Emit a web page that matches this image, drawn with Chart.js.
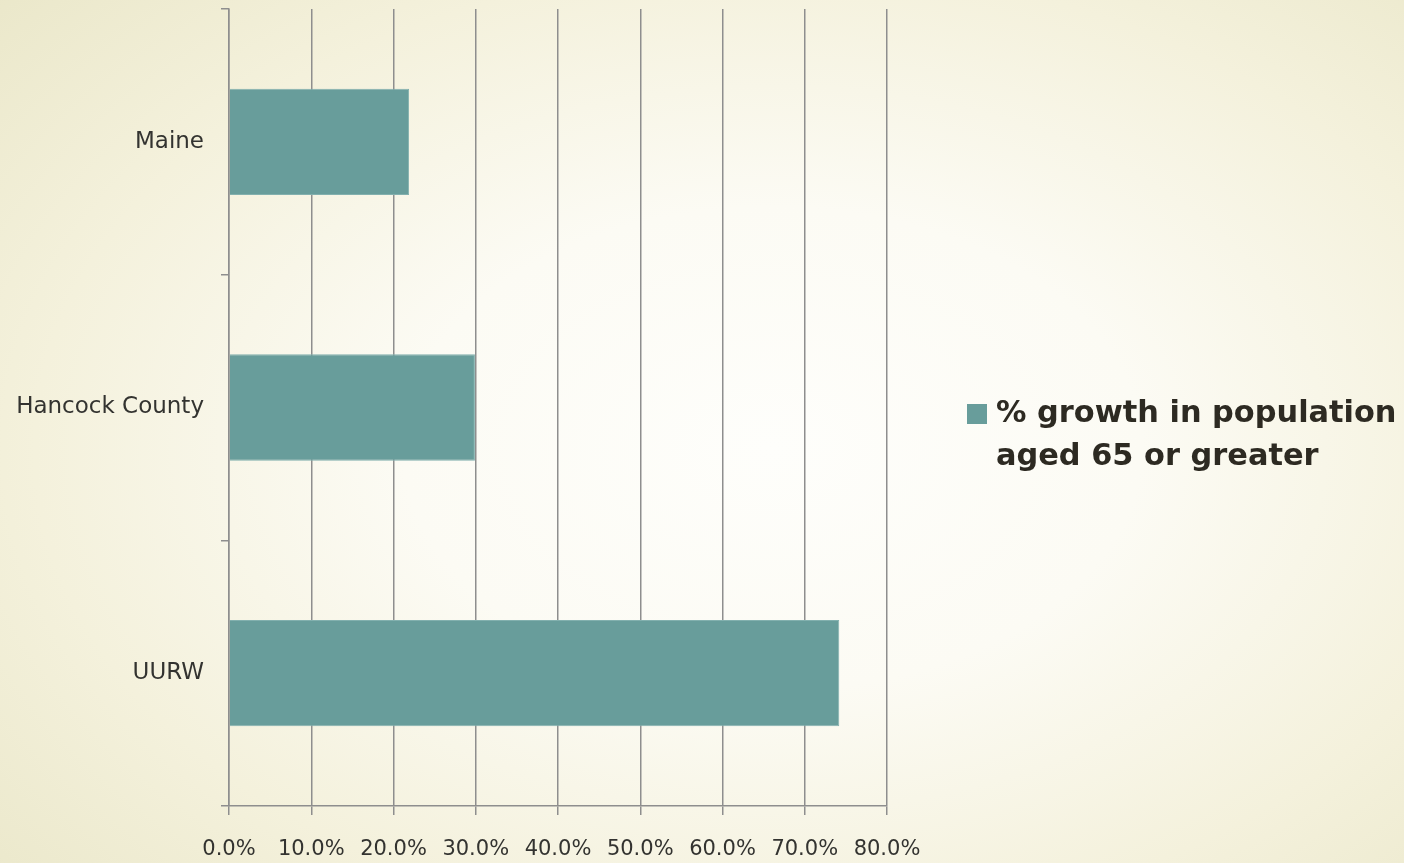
<!DOCTYPE html>
<html>
<head>
<meta charset="utf-8">
<script src="https://cdn.jsdelivr.net/npm/chart.js@4/dist/chart.umd.min.js"></script>
<style>
  html, body { margin: 0; padding: 0; }
  body {
    width: 1404px; height: 863px; overflow: hidden;
    background: radial-gradient(ellipse 75% 80% at 55% 52%, #fefefb 0%, #fcfbf4 35%, #f4f1dc 70%, #eae7c9 100%);
  }
  #wrap { position: relative; width: 1404px; height: 863px; }
</style>
</head>
<body>
<div id="wrap"><canvas id="c"></canvas></div>
<script>
// Regions compared
const categories = ['Maine', 'Hancock County', 'UURW'];
// Growth of the 65+ population, in percent
const growthValues = [21.9, 29.9, 74.2];
const seriesLabel = '% growth in population aged 65 or greater';
const xTicks = [0, 10, 20, 30, 40, 50, 60, 70, 80];

const barColor = '#689d9b';
const gridColor = '#8e8e8e';
const textColor = '#333330';

// Draws the series key at the right, wrapped across lines
const sideLegend = {
  id: 'sideLegend',
  afterDraw(chart) {
    const ctx = chart.ctx;
    const ds = chart.data.datasets[0];
    ctx.save();
    ctx.font = 'bold 30.4px "DejaVu Sans", sans-serif';
    const words = ds.label.split(' ');
    const maxW = 405;
    const lines = [];
    let cur = '';
    words.forEach(w => {
      const t = cur ? cur + ' ' + w : w;
      if (ctx.measureText(t).width > maxW && cur) { lines.push(cur); cur = w; }
      else cur = t;
    });
    if (cur) lines.push(cur);
    const x0 = 967, textX = 996, y0 = 414, lh = 43;
    ctx.fillStyle = ds.backgroundColor;
    ctx.fillRect(x0, y0 - 10, 20, 20);
    ctx.fillStyle = '#2d2a22';
    ctx.textBaseline = 'middle';
    ctx.textAlign = 'left';
    lines.forEach((l, i) => ctx.fillText(l, textX, y0 + i * lh));
    ctx.restore();
  }
};

new Chart(document.getElementById('c'), {
  type: 'bar',
  data: {
    labels: categories,
    datasets: [{
      label: seriesLabel,
      data: growthValues,
      backgroundColor: barColor,
      borderColor: '#82b0ae',
      borderWidth: 1,
      borderSkipped: 'start',
      categoryPercentage: 1.0,
      barPercentage: 0.4
    }]
  },
  options: {
    indexAxis: 'y',
    responsive: true,
    maintainAspectRatio: false,
    animation: false,
    layout: { padding: { top: 9, right: 517, left: 0, bottom: 0 } },
    plugins: { legend: { display: false }, tooltip: { enabled: false } },
    scales: {
      x: {
        min: 0, max: 80,
        afterBuildTicks(scale) { scale.ticks = xTicks.map(v => ({ value: v })); },
        afterFit(scale) { scale.height = 57; },
        grid: { color: gridColor, lineWidth: 1.5, tickLength: 9, drawTicks: true },
        border: { color: gridColor, width: 1.5 },
        ticks: {
          color: textColor,
          font: { family: '"DejaVu Sans", sans-serif', size: 21 },
          padding: 22,
          maxRotation: 0,
          callback: v => v.toFixed(1) + '%'
        }
      },
      y: {
        offset: true,
        afterFit(scale) { scale.width = 229; scale.paddingTop = 0; scale.paddingBottom = 0; },
        grid: { drawOnChartArea: false, offset: true, color: gridColor, lineWidth: 1.5, tickLength: 8 },
        border: { color: gridColor, width: 1.5 },
        ticks: {
          color: textColor,
          font: { family: '"DejaVu Sans", sans-serif', size: 23 },
          padding: 17
        }
      }
    }
  },
  plugins: [sideLegend]
});
</script>
</body>
</html>
